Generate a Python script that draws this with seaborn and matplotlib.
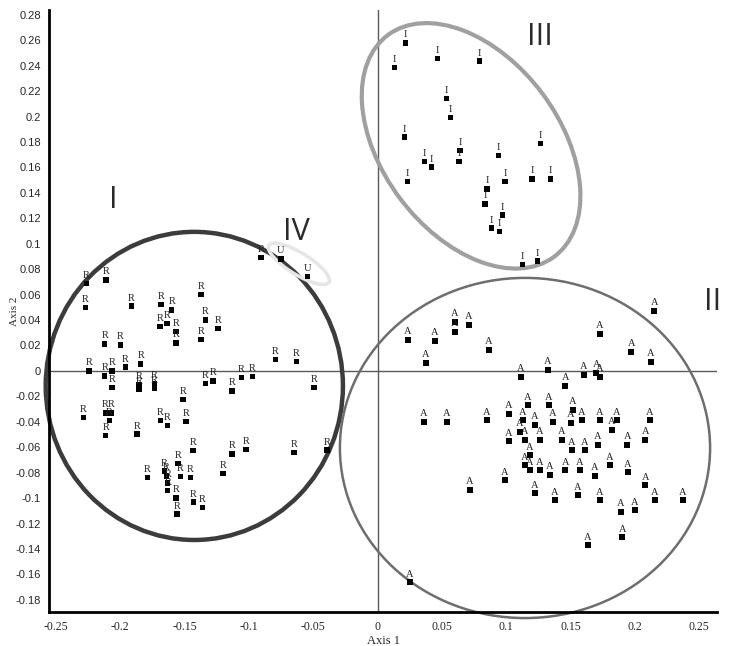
import numpy as np
import pandas as pd
import matplotlib
matplotlib.use("Agg")
import matplotlib.pyplot as plt
import seaborn as sns
from matplotlib.patches import Ellipse
from matplotlib.ticker import MultipleLocator, FuncFormatter

# ---------------- data ----------------
R_x = [-0.2263, -0.2110, -0.2271, -0.1913, -0.1683, -0.1600, -0.1691, -0.1638, -0.1568, -0.1566,
       -0.1374, -0.1337, -0.1374, -0.1242, -0.2121, -0.1998, -0.2243, -0.2121, -0.2066, -0.2064,
       -0.1960, -0.1841, -0.1856, -0.1856, -0.1734, -0.1734, -0.1514, -0.1337, -0.1281, -0.0907,
       -0.0793, -0.0630, -0.1131, -0.1058, -0.0972, -0.0495, -0.2286, -0.2115, -0.2072, -0.2084,
       -0.2113, -0.1869, -0.1687, -0.1633, -0.1491, -0.1434, -0.1131, -0.1024, -0.0651, -0.0394,
       -0.1551, -0.1790, -0.1532, -0.1454, -0.1203, -0.1658, -0.1642, -0.1631, -0.1631, -0.1568,
       -0.1561, -0.1432, -0.1361]
R_y = [0.0685, 0.0716, 0.0501, 0.0509, 0.0522, 0.0480, 0.0349, 0.0372, 0.0312, 0.0220,
       0.0600, 0.0401, 0.0249, 0.0333, 0.0212, 0.0205, 0.0000, -0.0039, 0.0000, -0.0131,
       0.0031, 0.0055, -0.0105, -0.0142, -0.0102, -0.0136, -0.0223, -0.0098, -0.0079, 0.0891,
       0.0089, 0.0076, -0.0157, -0.0050, -0.0042, -0.0128, -0.0367, -0.0330, -0.0330, -0.0388,
       -0.0509, -0.0496, -0.0391, -0.0430, -0.0396, -0.0625, -0.0653, -0.0619, -0.0640, -0.0622,
       -0.0726, -0.0838, -0.0830, -0.0836, -0.0808, -0.0787, -0.0826, -0.0881, -0.0940, -0.0999,
       -0.1125, -0.1031, -0.1072]

U_x = [-0.0752, -0.0544]
U_y = [0.0881, 0.0742]

I_x = [0.0218, 0.0129, 0.0467, 0.0790, 0.0533, 0.0568, 0.0207, 0.1264, 0.0365, 0.0420,
       0.0640, 0.0632, 0.0941, 0.0233, 0.0990, 0.1198, 0.1342, 0.0850, 0.0834, 0.0972,
       0.0883, 0.0946, 0.1128, 0.1241]
I_y = [0.2580, 0.2384, 0.2457, 0.2437, 0.2140, 0.1993, 0.1839, 0.1786, 0.1647, 0.1603,
       0.1731, 0.1647, 0.1694, 0.1490, 0.1490, 0.1510, 0.1510, 0.1432, 0.1314, 0.1225,
       0.1123, 0.1096, 0.0839, 0.0863]

A_x = [0.2149, 0.0236, 0.0446, 0.0601, 0.0710, 0.0601, 0.0866, 0.0376, 0.1729, 0.1324,
       0.1970, 0.1114, 0.1457, 0.1604, 0.1698, 0.1729, 0.2125, 0.0360, 0.0539, 0.0850,
       0.1021, 0.1169, 0.1130, 0.1223, 0.1332, 0.1363, 0.1503, 0.1519, 0.1589, 0.1729,
       0.1861, 0.2117, 0.1021, 0.1107, 0.1146, 0.1184, 0.1262, 0.1433, 0.1511, 0.1612,
       0.1713, 0.1822, 0.1939, 0.2079, 0.1146, 0.1184, 0.1262, 0.1340, 0.1457, 0.1573,
       0.1690, 0.1806, 0.1946, 0.2079, 0.0718, 0.0990, 0.1223, 0.1379, 0.1558, 0.1729,
       0.2001, 0.2156, 0.2374, 0.1892, 0.1635, 0.1900, 0.0251]
A_y = [0.0472, 0.0244, 0.0236, 0.0307, 0.0362, 0.0386, 0.0165, 0.0063, 0.0291, 0.0008,
       0.0149, -0.0047, -0.0118, -0.0031, -0.0016, -0.0047, 0.0071, -0.0401, -0.0401, -0.0386,
       -0.0338, -0.0268, -0.0386, -0.0425, -0.0268, -0.0401, -0.0409, -0.0307, -0.0386, -0.0386,
       -0.0386, -0.0386, -0.0551, -0.0480, -0.0543, -0.0661, -0.0543, -0.0543, -0.0622, -0.0622,
       -0.0582, -0.0464, -0.0582, -0.0543, -0.0740, -0.0779, -0.0779, -0.0818, -0.0779, -0.0779,
       -0.0826, -0.0740, -0.0795, -0.0897, -0.0936, -0.0858, -0.0960, -0.1015, -0.0976, -0.1015,
       -0.1094, -0.1015, -0.1015, -0.1109, -0.1369, -0.1306, -0.1660]

x_ticks = [-0.25, -0.2, -0.15, -0.1, -0.05, 0, 0.05, 0.1, 0.15, 0.2, 0.25]
y_ticks = [round(-0.18 + 0.02 * i, 2) for i in range(24)]

group_labels = ["I", "II", "III", "IV"]
group_label_pos = [(-0.2058, 0.1345), (0.2600, 0.0543), (0.1262, 0.2628), (-0.0635, 0.1094)]

# ellipses: (center x, center y, width, height, angle, colour, linewidth, zorder)
ellipses = [
    (-0.1425, -0.0118, 0.231, 0.2423, 0, "#3c3c3c", 3.2, 2),
    (0.1145, -0.0606, 0.2877, 0.2675, 0, "#6e6e6e", 1.8, 2),
    (0.0726, 0.1770, 0.217, 0.138, -53.7, "#a0a0a0", 3.0, 2),
    (-0.0612, 0.0842, 0.055, 0.017, -32, "#e6e6e6", 2.6, 3),
]

frames = []
for lab, xs, ys in [("R", R_x, R_y), ("U", U_x, U_y), ("I", I_x, I_y), ("A", A_x, A_y)]:
    frames.append(pd.DataFrame({"x": xs, "y": ys, "lab": lab}))
df = pd.concat(frames, ignore_index=True)

# ---------------- plot ----------------
sns.set_style("white")
plt.rcParams["axes.unicode_minus"] = False
fig = plt.figure(figsize=(7.37, 6.46), dpi=100)
ax = fig.add_axes([0.0669, 0.0522, 0.9061, 0.9323])

ax.axhline(0, color="#5a5a5a", lw=1.0, zorder=1)
ax.axvline(0, color="#5a5a5a", lw=1.0, zorder=1)

for cx, cy, w, h, ang, col, lw, zo in ellipses:
    ax.add_patch(Ellipse((cx, cy), w, h, angle=ang, fill=False, edgecolor=col,
                         lw=lw, clip_on=False, zorder=zo))

sns.scatterplot(data=df, x="x", y="y", marker="s", color="black", s=15,
                edgecolor="none", ax=ax, legend=False, zorder=4)

for _, row in df.iterrows():
    ax.annotate(row["lab"], (row["x"], row["y"]), xytext=(0, 2.5), textcoords="offset points",
                ha="center", va="bottom", fontsize=7.5, family="Liberation Serif",
                color="#222222", zorder=5)

for lab, (tx, ty) in zip(group_labels, group_label_pos):
    ax.text(tx, ty, lab, ha="center", va="center", fontsize=22, family="Open Sans",
            color="#2a2a2a", zorder=5)

ax.set_xlim(-0.2552, 0.2638)
ax.set_ylim(-0.1898, 0.2838)
ax.set_xticks(x_ticks)
ax.set_yticks(y_ticks)
ax.xaxis.set_minor_locator(MultipleLocator(0.01))
ax.yaxis.set_minor_locator(MultipleLocator(0.004))
fmt = FuncFormatter(lambda v, p: ("%g" % round(v, 3)) if abs(v) > 1e-9 else "0")
ax.xaxis.set_major_formatter(fmt)
ax.yaxis.set_major_formatter(fmt)

for lbl in ax.get_xticklabels():
    lbl.set_family("Liberation Serif")
    lbl.set_fontsize(8.5)
for lbl in ax.get_yticklabels():
    lbl.set_family("Liberation Sans")
    lbl.set_fontsize(8)

ax.tick_params(axis="both", which="major", direction="out", length=4, width=1.2,
               color="black", pad=2)
ax.tick_params(axis="both", which="minor", direction="out", length=2, width=1.0, color="black")

for s in ["top", "right"]:
    ax.spines[s].set_visible(False)
for s in ["left", "bottom"]:
    ax.spines[s].set_color("black")
    ax.spines[s].set_linewidth(2.0)

ax.set_xlabel("Axis 1", family="Liberation Serif", fontsize=9, labelpad=2)
ax.set_ylabel("Axis 2", family="Liberation Serif", fontsize=8)
ax.yaxis.set_label_coords(-0.046, 0.5)

fig.savefig("out.png", dpi=100)
